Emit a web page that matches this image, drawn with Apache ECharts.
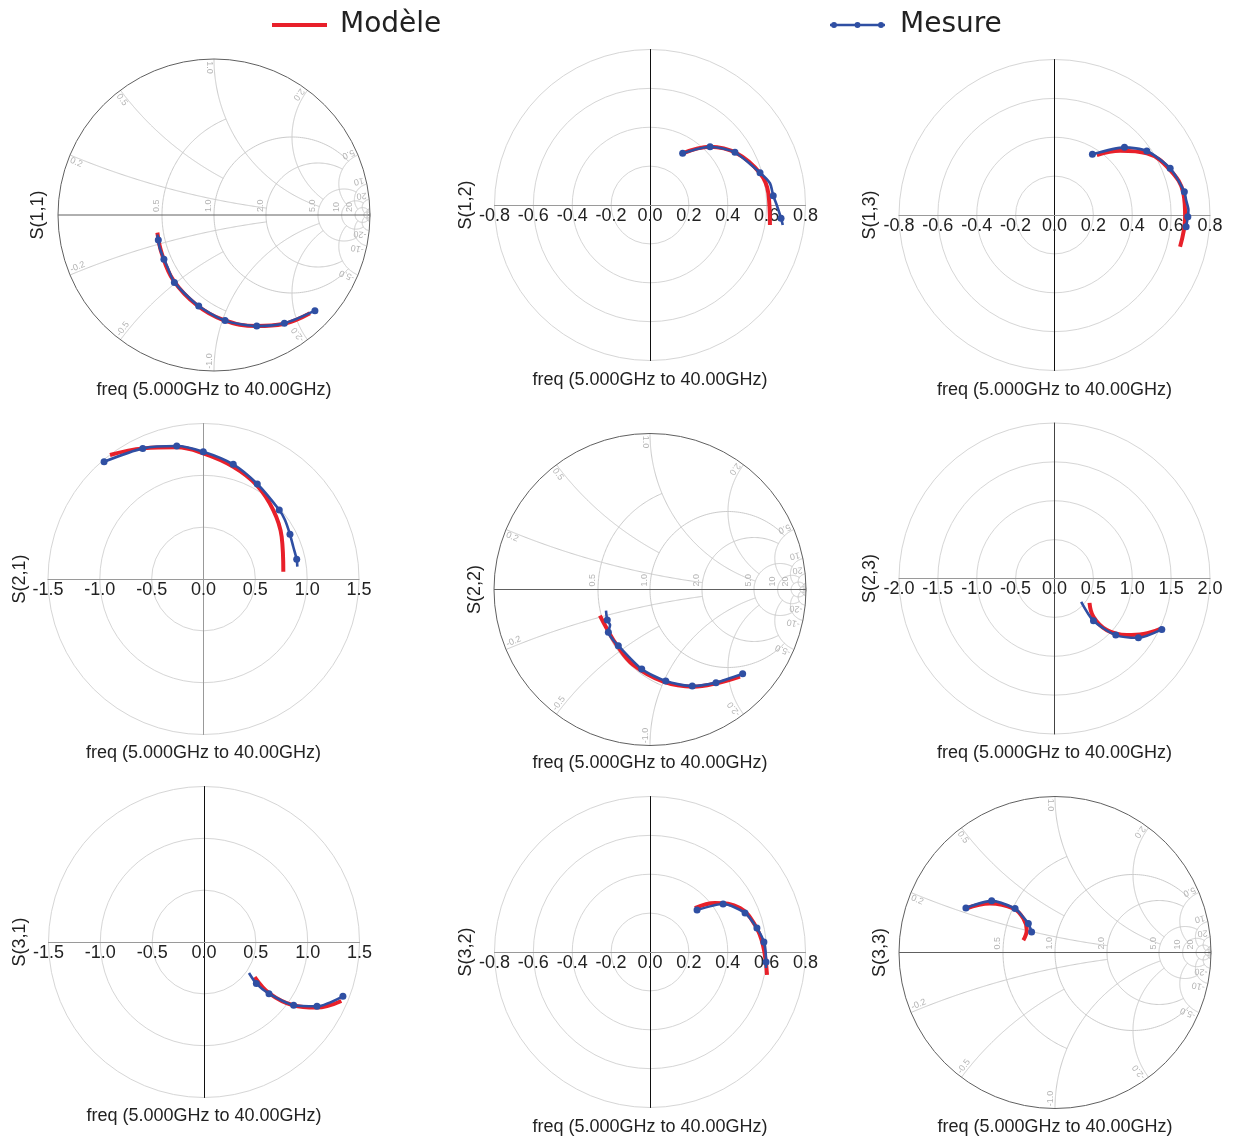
<!DOCTYPE html>
<html><head><meta charset="utf-8">
<script src="https://cdn.jsdelivr.net/npm/echarts/dist/echarts.min.js"></script>
<style>html,body{margin:0;padding:0;background:#fff}#c{width:1233px;height:1140px}</style>
</head><body><div id="c"></div>
<script>
// ---------------- DATA (complex reflection / transmission values: [re, im]) ----------------
const seriesNames = ['Modèle', 'Mesure'];
const freqText = 'freq (5.000GHz to 40.00GHz)';
const panelTitles = ['S(1,1)','S(1,2)','S(1,3)','S(2,1)','S(2,2)','S(2,3)','S(3,1)','S(3,2)','S(3,3)'];

// Mesure entries: [re, im, marker] (marker 1 = frequency point drawn with a dot)
const s11Model = [[-0.363,-0.113],[-0.335,-0.246],[-0.261,-0.417],[-0.111,-0.577],[0.060,-0.673],[0.274,-0.712],[0.444,-0.699],[0.615,-0.630]];
const s11Meas  = [[-0.363,-0.125,0],[-0.357,-0.160,1],[-0.350,-0.205,0],[-0.321,-0.284,1],[-0.300,-0.330,0],[-0.254,-0.432,1],[-0.098,-0.583,1],[0.071,-0.677,1],[0.274,-0.712,1],[0.451,-0.694,1],[0.647,-0.613,1]];

const s12Model = [[0.168,0.266],[0.309,0.300],[0.446,0.266],[0.566,0.163],[0.609,0.060],[0.617,-0.103]];
const s12Meas  = [[0.168,0.266,1],[0.309,0.300,1],[0.437,0.271,1],[0.566,0.166,1],[0.617,0.112,0],[0.634,0.048,1],[0.652,0.000,0],[0.674,-0.068,1],[0.683,-0.103,0]];

const s13Model = [[0.218,0.308],[0.338,0.330],[0.475,0.317],[0.595,0.231],[0.663,0.112],[0.672,-0.009],[0.646,-0.163]];
const s13Meas  = [[0.195,0.312,1],[0.360,0.348,1],[0.475,0.329,1],[0.595,0.240,1],[0.668,0.120,1],[0.677,0.077,0],[0.689,0.026,0],[0.686,-0.009,1],[0.677,-0.060,1]];

const s21Model = [[-0.902,1.196],[-0.581,1.260],[-0.258,1.270],[-0.002,1.212],[0.287,1.083],[0.513,0.906],[0.673,0.665],[0.754,0.408],[0.770,0.070]];
const s21Meas  = [[-0.959,1.131,1],[-0.586,1.260,1],[-0.258,1.283,1],[-0.002,1.228,1],[0.287,1.106,1],[0.519,0.916,1],[0.731,0.665,1],[0.786,0.569,0],[0.834,0.431,1],[0.866,0.311,0],[0.899,0.190,1],[0.905,0.119,0]];

const s22Model = [[-0.321,-0.168],[-0.278,-0.249],[-0.213,-0.356],[-0.107,-0.484],[0.085,-0.591],[0.278,-0.623],[0.428,-0.601],[0.577,-0.559]];
const s22Meas  = [[-0.282,-0.136,0],[-0.274,-0.196,1],[-0.256,-0.228,0],[-0.267,-0.274,1],[-0.245,-0.312,0],[-0.203,-0.360,1],[-0.053,-0.510,1],[0.101,-0.587,1],[0.271,-0.619,1],[0.423,-0.597,1],[0.594,-0.540,1]];

const s23Model = [[0.450,-0.313],[0.501,-0.493],[0.673,-0.664],[0.930,-0.728],[1.143,-0.715],[1.380,-0.642]];
const s23Meas  = [[0.343,-0.300,0],[0.501,-0.544,1],[0.788,-0.728,1],[1.079,-0.763,1],[1.380,-0.655,1]];

const s31Model = [[0.489,-0.338],[0.634,-0.498],[0.858,-0.610],[1.084,-0.633],[1.325,-0.569]];
const s31Meas  = [[0.434,-0.299,0],[0.505,-0.401,1],[0.627,-0.498,1],[0.865,-0.610,1],[1.090,-0.620,1],[1.340,-0.524,1]];

const s32Model = [[0.231,0.226],[0.334,0.252],[0.463,0.226],[0.540,0.139],[0.581,0.036],[0.602,-0.118]];
const s32Meas  = [[0.242,0.216,1],[0.376,0.247,1],[0.489,0.201,1],[0.550,0.123,1],[0.586,0.051,1],[0.597,-0.051,1],[0.597,-0.082,0]];

const s33Model = [[-0.571,0.282],[-0.417,0.314],[-0.267,0.282],[-0.203,0.218],[-0.181,0.143],[-0.203,0.079]];
const s33Meas  = [[-0.571,0.286,1],[-0.406,0.331,1],[-0.256,0.282,1],[-0.215,0.240,0],[-0.171,0.186,1],[-0.150,0.132,1]];

// Smith chart grid values
const smithR = [0.5, 1, 2, 5, 10, 20, 50];
const smithRLimit = [1, 5, 5, 10, 20, Infinity, Infinity];
const smithX = [0.2, 0.5, 1, 2, 5, 10, 20, 50];
const smithXLimit = [2, 1, 5, 5, 10, 20, 50, Infinity];
const smithRLabels = [0.5, 1, 2, 5, 10, 20];
const smithXLabels = [0.2, 0.5, 1, 2, 5, 10, 20];

// polar panel axis ranges
const polarMax = {'S(1,2)':0.8,'S(1,3)':0.8,'S(2,1)':1.5,'S(2,3)':2.0,'S(3,1)':1.5,'S(3,2)':0.8};
const polarStep = {'S(1,2)':0.2,'S(1,3)':0.2,'S(2,1)':0.5,'S(2,3)':0.5,'S(3,1)':0.5,'S(3,2)':0.2};

// ---------------- LAYOUT / STYLE ----------------
const RED = '#e8202a', BLUE = '#2f4fa3';
const FONT = '"Liberation Sans", Arial, sans-serif';
const layout = [
  {kind:'smith', cx:214,    cy:215,   R:156,   nameX:38,  freqY:390},
  {kind:'polar', cx:650,    cy:205,   R:155.5, nameX:466, freqY:380,  vColor:'#111'},
  {kind:'polar', cx:1054.5, cy:215,   R:155.5, nameX:870, freqY:390,  vColor:'#111'},
  {kind:'polar', cx:203.5,  cy:579,   R:155.5, nameX:20,  freqY:753,  vColor:'#999'},
  {kind:'smith', cx:650,    cy:589.5, R:156,   nameX:475, freqY:763},
  {kind:'polar', cx:1054.5, cy:578.5, R:155.5, nameX:870, freqY:753,  vColor:'#444'},
  {kind:'polar', cx:204,    cy:942,   R:155.5, nameX:20,  freqY:1116, vColor:'#111'},
  {kind:'polar', cx:650,    cy:952,   R:155.5, nameX:466, freqY:1127, vColor:'#111'},
  {kind:'smith', cx:1055,   cy:952.5, R:156,   nameX:880, freqY:1127}
];
const models = [s11Model,s12Model,s13Model,s21Model,s22Model,s23Model,s31Model,s32Model,s33Model];
const meas = [s11Meas,s12Meas,s13Meas,s21Meas,s22Meas,s23Meas,s31Meas,s32Meas,s33Meas];

function gam(r, x){ const d=(r+1)*(r+1)+x*x; return [(r*r+x*x-1)/d, 2*x/d]; }
function fmtSmith(v){ return Math.abs(v) < 10 ? v.toFixed(1) : String(v); }

function smithGrid(params, api){
  const P = g => api.coord(g);
  const ch = [];
  const gs = {stroke:'#cbcbcb', lineWidth:1, fill:null};
  const N = 180;
  smithR.forEach((r,i)=>{
    const c=r/(r+1), rho=1/(r+1), xl=smithRLimit[i];
    let a1=0, a2=2*Math.PI;
    if (isFinite(xl)){ const g1=gam(r,xl), g2=gam(r,-xl); a1=Math.atan2(g1[1],g1[0]-c); a2=2*Math.PI+Math.atan2(g2[1],g2[0]-c); }
    const pts=[];
    for(let k=0;k<=N;k++){ const a=a1+(a2-a1)*k/N; pts.push(P([c+rho*Math.cos(a), rho*Math.sin(a)])); }
    ch.push({type:'polyline', shape:{points:pts}, style:gs, silent:true});
  });
  const norm = a => a < Math.PI/2 ? a+2*Math.PI : a;
  smithX.forEach((x,i)=>{
    const rl=smithXLimit[i];
    const g0=gam(0,x); const a0=norm(Math.atan2(g0[1]-1/x, g0[0]-1));
    let ae=1.5*Math.PI;
    if (isFinite(rl)){ const ge=gam(rl,x); ae=norm(Math.atan2(ge[1]-1/x, ge[0]-1)); }
    [1,-1].forEach(s=>{
      const pts=[];
      for(let k=0;k<=N;k++){ const a=a0+(ae-a0)*k/N; pts.push(P([1+Math.cos(a)/x, s*(1/x+Math.sin(a)/x)])); }
      ch.push({type:'polyline', shape:{points:pts}, style:gs, silent:true});
    });
  });
  const o=P([0,0]); const rad=api.size([1,0])[0];
  ch.push({type:'circle', shape:{cx:o[0],cy:o[1],r:rad}, style:{stroke:'#606060', lineWidth:1, fill:null}, silent:true});
  const a=P([-1,0]), b=P([1,0]);
  ch.push({type:'line', shape:{x1:a[0],y1:a[1],x2:b[0],y2:b[1]}, style:{stroke:'#606060', lineWidth:1}, silent:true});
  const lf = '9px ' + FONT, lc = '#b4b4b4';
  smithRLabels.forEach(r=>{
    const p=P(gam(r,0));
    ch.push({type:'text', x:p[0]-1, y:p[1]-3, rotation:Math.PI/2, silent:true,
      style:{text:fmtSmith(r), align:'left', verticalAlign:'bottom', fill:lc, font:lf}});
  });
  smithXLabels.forEach(x=>{
    [1,-1].forEach(s=>{
      const g=gam(0,s*x); const th=Math.atan2(g[1],g[0]);
      const p=P([g[0]*0.985,g[1]*0.985]);
      ch.push({type:'text', x:p[0], y:p[1], rotation:th+Math.PI, silent:true,
        style:{text:fmtSmith(s*x), align:'left', verticalAlign: s>0?'top':'bottom', fill:lc, font:lf}});
    });
  });
  return {type:'group', children:ch};
}

const nameStyle = {fontSize:18, color:'#222', fontFamily:FONT};
const grids=[], xAxes=[], yAxes=[], polars=[], radiusAxes=[], angleAxes=[], series=[];
layout.forEach((p,i)=>{
  const title = panelTitles[i];
  grids.push({left:p.cx-p.R, top:p.cy-p.R, width:2*p.R, height:2*p.R, containLabel:false, outerBoundsMode:'none'});
  if (p.kind==='smith'){
    xAxes.push({gridIndex:i, type:'value', min:-1, max:1, position:'bottom', axisLine:{show:false,onZero:false}, axisTick:{show:false},
      axisLabel:{show:false}, splitLine:{show:false}, name:freqText, nameLocation:'middle',
      nameGap:p.freqY-9-(p.cy+p.R), nameTextStyle:nameStyle});
    yAxes.push({gridIndex:i, type:'value', min:-1, max:1, position:'left', axisLine:{show:false,onZero:false}, axisTick:{show:false},
      axisLabel:{show:false}, splitLine:{show:false}, name:title, nameLocation:'middle',
      nameGap:(p.cx-p.R)-p.nameX-9, nameTextStyle:nameStyle});
    series.push({type:'custom', coordinateSystem:'cartesian2d', xAxisIndex:i, yAxisIndex:i, data:[[0,0]],
      renderItem:smithGrid, silent:true, z:1, clip:false});
  } else {
    const m = polarMax[title], st = polarStep[title];
    // axes crossing at the origin: moved from the grid edge to the centre by -R
    xAxes.push({gridIndex:i, type:'value', min:-m, max:m, interval:st, position:'bottom', offset:-p.R,
      axisLine:{onZero:false, lineStyle:{color:'#9a9a9a', width:1}}, axisTick:{show:false},
      axisLabel:{margin:2, fontSize:18, color:'#222', fontFamily:FONT, formatter:v=>v.toFixed(1)},
      splitLine:{show:false}, name:freqText, nameLocation:'middle', nameGap:p.freqY-9-p.cy, nameTextStyle:nameStyle});
    yAxes.push({gridIndex:i, type:'value', min:-m, max:m, interval:st, position:'left', offset:-p.R,
      axisLine:{onZero:false, lineStyle:{color:p.vColor, width:1}}, axisTick:{show:false},
      axisLabel:{show:false}, splitLine:{show:false}, name:title, nameLocation:'middle',
      nameGap:p.cx-p.nameX-9, nameTextStyle:nameStyle});
    const pi = polars.length;
    polars.push({center:[p.cx,p.cy], radius:p.R});
    radiusAxes.push({polarIndex:pi, type:'value', min:0, max:m, interval:st, axisLine:{show:false},
      axisTick:{show:false}, axisLabel:{show:false}, splitLine:{show:true, lineStyle:{color:'#d6d6d6', width:1}}, z:0});
    angleAxes.push({polarIndex:pi, type:'value', show:false});
  }
  series.push({type:'line', name:seriesNames[0], xAxisIndex:i, yAxisIndex:i, data:models[i],
    smooth:0.4, symbol:'none', lineStyle:{color:RED, width:4}, itemStyle:{color:RED}, z:3, silent:true});
  series.push({type:'line', name:seriesNames[1], xAxisIndex:i, yAxisIndex:i,
    data:meas[i].map(q=>({value:[q[0],q[1]], symbol:q[2]?'circle':'none'})),
    smooth:0.25, symbol:'circle', symbolSize:7, showSymbol:true, showAllSymbol:true,
    lineStyle:{color:BLUE, width:2.6}, itemStyle:{color:BLUE}, z:4, silent:true});
});

const legendText = {fontSize:28, color:'#222', fontFamily:'"DejaVu Sans", sans-serif'};
const option = {
  animation:false,
  backgroundColor:'#fff',
  legend:[
    {data:[{name:seriesNames[0], icon:'path://M0,0L55,0L55,4L0,4Z'}], left:272, top:11, padding:0, itemWidth:55, itemHeight:4,
      textStyle:Object.assign({padding:[0,0,0,8]}, legendText), selectedMode:false},
    {data:[{name:seriesNames[1], icon:'path://M0,3L55,3L55,5.4L0,5.4Z M1,4.2A3,3 0 1 1 7,4.2A3,3 0 1 1 1,4.2Z M24.5,4.2A3,3 0 1 1 30.5,4.2A3,3 0 1 1 24.5,4.2Z M48,4.2A3,3 0 1 1 54,4.2A3,3 0 1 1 48,4.2Z'}],
      left:830, top:11, padding:0, itemWidth:55, itemHeight:6, textStyle:Object.assign({padding:[0,0,0,10]}, legendText), selectedMode:false}
  ],
  grid:grids, xAxis:xAxes, yAxis:yAxes,
  polar:polars, radiusAxis:radiusAxes, angleAxis:angleAxes,
  series:series
};
const chart = echarts.init(document.getElementById('c'), null, {renderer:'canvas'});
chart.setOption(option);
</script></body></html>
